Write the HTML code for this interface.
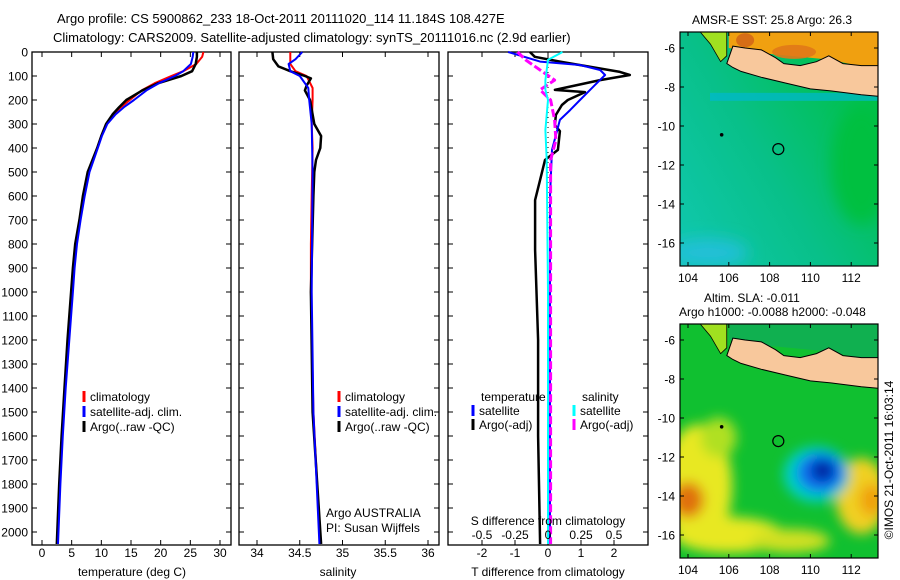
<!DOCTYPE html>
<html><head><meta charset="utf-8">
<style>
html,body{margin:0;padding:0;background:#fff;}
svg{display:block;font-family:"Liberation Sans",sans-serif;}
text{fill:#000;}
</style></head>
<body>
<svg id="fig" width="900" height="580" viewBox="0 0 900 580" xmlns="http://www.w3.org/2000/svg">
<text x="57" y="23" font-size="13">Argo profile: CS 5900862_233 18-Oct-2011 20111020_114 11.184S 108.427E</text>
<text x="53" y="42" font-size="13">Climatology: CARS2009. Satellite-adjusted climatology: synTS_20111016.nc (2.9d earlier)</text>
<g id="p1"></g>
<g id="p2"></g>
<g id="p3"></g>
<g id="m1"></g>
<g id="m2"></g>
<text x="0" y="0" font-size="12" transform="translate(893,460) rotate(-90)" text-anchor="middle">©IMOS 21-Oct-2011 16:03:14</text>
</svg>
<script>
// ---- data ----
const depthTicks=[0,100,200,300,400,500,600,700,800,900,1000,1100,1200,1300,1400,1500,1600,1700,1800,1900,2000];
const tempTicks=[0,5,10,15,20,25,30];
const salTicks=[34,34.5,35,35.5,36];
const salTickLabels=["34","34.5","35","35.5","36"];
const tdTicks=[-2,-1,0,1,2];
const sdTicks=[-0.5,-0.25,0,0.25,0.5];
const sdTickLabels=["-0.5","-0.25","0","0.25","0.5"];

const tClimDepth=[0,20,50,80,100,130,160,200,230,260,300,350,400,500,600,700,800,900,1000,1200,1400,1600,1800,2050];
const tClim=[27.2,27.0,26.0,23.8,21.8,19.0,16.8,14.8,13.3,12.0,10.8,10.0,9.3,7.8,7.1,6.4,5.7,5.4,5.1,4.5,3.9,3.4,3.0,2.6];
const tSatDepth=[0,20,50,80,100,130,160,200,230,260,300,350,400,500,600,700,800,900,1000,1200,1400,1600,1800,2050];
const tSat=[25.5,25.4,25.1,23.8,22.4,19.7,17.6,15.5,13.8,12.4,11.0,10.1,9.4,8.0,7.2,6.5,5.9,5.5,5.2,4.6,4.0,3.5,3.1,2.7];
const tArgoDepth=[0,20,50,80,100,130,160,200,230,260,300,350,400,500,600,700,800,900,1000,1200,1400,1600,1800,2050];
const tArgo=[26.1,26.1,25.9,25.3,23.5,19.6,16.9,14.2,13.0,11.9,10.8,10.0,9.3,7.7,6.9,6.3,5.6,5.2,4.9,4.3,3.8,3.3,2.9,2.5];

const sClimDepth=[0,50,80,100,150,200,300,400,600,800,1000,1500,2050];
const sClim=[34.39,34.39,34.45,34.58,34.65,34.65,34.64,34.65,34.64,34.63,34.63,34.66,34.74];
const sSatDepth=[0,30,50,80,100,150,200,300,500,1000,1500,2050];
const sSat=[34.53,34.45,34.37,34.39,34.50,34.60,34.61,34.64,34.65,34.64,34.66,34.73];
const sArgoDepth=[0,30,60,80,100,110,140,160,200,300,350,400,450,500,600,1000,1500,2050];
const sArgo=[34.18,34.19,34.25,34.39,34.56,34.63,34.58,34.56,34.62,34.67,34.75,34.74,34.69,34.67,34.66,34.63,34.65,34.75];

const dTArgoDepth=[0,20,40,83,96,117,158,167,200,221,262,304,330,408,450,533,617,825,1200,1600,2050];
const dTArgo=[-0.55,-0.4,0.36,2.18,2.48,1.58,0.21,1.12,0.6,0.42,0.24,0.21,0.36,0.3,-0.09,-0.24,-0.39,-0.39,-0.3,-0.3,-0.24];
const dTSatDepth=[0,40,54,75,96,138,200,242,283,408,600,1000,2050];
const dTSat=[-1.21,-0.24,0.97,1.58,1.73,1.42,0.97,0.67,0.36,0.12,0.06,0.06,0.06];
const dSArgoDepth=[0,33,75,117,158,200,283,367,450,600,1000,2050];
const dSArgo=[-0.23,-0.17,-0.06,0.05,-0.06,0.02,0.05,0.06,0.02,0.02,0.02,0.02];
const dSSatDepth=[0,33,117,158,200,325,450,1000,2050];
const dSSat=[0.11,0.0,-0.02,-0.02,0.0,-0.02,-0.01,0.0,0.0];

// ---- helpers ----
const NS="http://www.w3.org/2000/svg";
function mk(tag,attrs,parent){const e=document.createElementNS(NS,tag);for(const k in attrs)e.setAttribute(k,attrs[k]);parent.appendChild(e);return e;}
const Y0=52, PY=0.24, BOT=545;
function yD(d){return Y0+d*PY;}
function xT(t){return 42+t*(178/30);}
function xS(s){return 257+(s-34)*85.5;}
function xDT(t){return 548+t*33;}
function xDS(s){return 548+s*132;}

function frame(g,x0,x1,withDepthLabels){
  const r=mk('rect',{x:x0,y:Y0,width:x1-x0,height:BOT-Y0,fill:'none',stroke:'#000','stroke-width':1.3},g);
  
  
  depthTicks.forEach(d=>{
    const y=yD(d);
    const t1=mk('line',{x1:x0,y1:y,x2:x0+5,y2:y,stroke:'#000'},g);
    
    
    const t2=mk('line',{x1:x1-5,y1:y,x2:x1,y2:y,stroke:'#000'},g);
    
    
    if(withDepthLabels){
      const tx=mk('text',{x:28,y:y+4.5,'font-size':12,'text-anchor':'end'},g);
      tx.textContent=d;
      
      
    }
  });
}
function xticks(g,vals,labels,fx,ly,top){
  vals.forEach((v,i)=>{
    const x=fx(v);
    const a=mk('line',{x1:x,y1:BOT,x2:x,y2:BOT-5,stroke:'#000'},g);
    
    
    if(top){const b=mk('line',{x1:x,y1:Y0,x2:x,y2:Y0+5,stroke:'#000'},g);
    
    }
    if(labels){const t=mk('text',{x:x,y:ly,'font-size':12,'text-anchor':'middle'},g);
    t.textContent=labels[i];
    
    }
  });
}
function line(g,ds,vs,fx,color,name,w,dash){
  const pts=ds.map((d,i)=>fx(vs[i]).toFixed(1)+','+yD(Math.min(d,2070)).toFixed(1)).join(' ');
  const p=mk('polyline',{points:pts,fill:'none',stroke:color,'stroke-width':w||2,'stroke-linejoin':'round'},g);
  if(dash)p.setAttribute('stroke-dasharray',dash);
  
  
}
function label(g,x,y,txt,name,anchor){
  const t=mk('text',{x:x,y:y,'font-size':12,'text-anchor':anchor||'start'},g);
  t.textContent=txt;
  
  
}
function legRow(g,x,y,color,txt,name){
  const l=mk('line',{x1:x,y1:y-10,x2:x,y2:y+1,stroke:color,'stroke-width':3},g);
  
  
  label(g,x+6,y,txt,name);
}

// ---- panel 1 ----
const p1=document.getElementById('p1');
frame(p1,32,231,true);
xticks(p1,tempTicks,tempTicks.map(String),xT,557,true);
line(p1,tClimDepth,tClim,xT,'#ff0000','temp-climatology-line');
line(p1,tArgoDepth,tArgo,xT,'#000','temp-argo-line',2.5);
line(p1,tSatDepth,tSat,xT,'#0000ff','temp-satellite-line');
label(p1,132,576,'temperature (deg C)','x-axis-title','middle');
legRow(p1,84,401,'#ff0000','climatology','legend-climatology');
legRow(p1,84,416,'#0000ff','satellite-adj. clim.','legend-satellite');
legRow(p1,84,431,'#000','Argo(..raw -QC)','legend-argo');

// ---- panel 2 ----
const p2=document.getElementById('p2');
frame(p2,239,439,false);
xticks(p2,salTicks,salTickLabels,xS,557,true);
line(p2,sClimDepth,sClim,xS,'#ff0000','sal-climatology-line');
line(p2,sArgoDepth,sArgo,xS,'#000','sal-argo-line',2.5);
line(p2,sSatDepth,sSat,xS,'#0000ff','sal-satellite-line');
label(p2,338,576,'salinity','x-axis-title','middle');
legRow(p2,339,401,'#ff0000','climatology','legend-climatology');
legRow(p2,339,416,'#0000ff','satellite-adj. clim.','legend-satellite');
legRow(p2,339,431,'#000','Argo(..raw -QC)','legend-argo');
label(p2,326,517,'Argo AUSTRALIA','argo-country');
label(p2,326,532,'PI: Susan Wijffels','argo-pi');

// ---- panel 3 ----
const p3=document.getElementById('p3');
frame(p3,448,648,false);
xticks(p3,tdTicks,tdTicks.map(String),xDT,557,true);
const zl=mk('line',{x1:548,y1:Y0,x2:548,y2:BOT,stroke:'#000','stroke-dasharray':'1,4'},p3);


line(p3,dTArgoDepth,dTArgo,xDT,'#000','tdiff-argo-line',2.5);
line(p3,dTSatDepth,dTSat,xDT,'#0000ff','tdiff-satellite-line');
line(p3,dSArgoDepth,dSArgo,xDS,'#ff00ff','sdiff-argo-line',3,'8,3');
line(p3,dSSatDepth,dSSat,xDS,'#00ffff','sdiff-satellite-line');
sdTicks.forEach((v,i)=>label(p3,xDS(v),539,sdTickLabels[i],'s-tick-label','middle'));
label(p3,548,525,'S difference from climatology','s-axis-title','middle');
label(p3,548,576,'T difference from climatology','x-axis-title','middle');
label(p3,481,401,'temperature','legend-temperature-header');
label(p3,582,401,'salinity','legend-salinity-header');
legRow(p3,473,415,'#0000ff','satellite','legend-t-satellite');
legRow(p3,473,429,'#000','Argo(-adj)','legend-t-argo');
legRow(p3,574,415,'#00ffff','satellite','legend-s-satellite');
legRow(p3,574,429,'#ff00ff','Argo(-adj)','legend-s-argo');

// ---- maps ----
const lonTicks=[104,106,108,110,112];
const latTicks=[-6,-8,-10,-12,-14,-16];
const javaLon=[106.2,106.8,107.6,108.3,108.7,109.5,110.3,110.9,111.6,112.5,113.6,113.6,112.5,111,110,108.8,107.6,106.6,106.2,105.9];
const javaLat=[-5.9,-6.0,-6.1,-6.5,-6.8,-6.9,-6.7,-6.4,-6.8,-6.9,-6.9,-8.5,-8.4,-8.2,-8.1,-7.8,-7.5,-7.2,-7.0,-6.8];
const argoLon=108.427, argoLat=-11.184;
function drawMap(g,oy,title,kind){
  const X=lon=>688+(lon-104)*20.4, Y=lat=>48+oy+(-6-lat)*19.5;
  const x0=680,x1=878,y0=32+oy,y1=266+oy;
  const defs=mk('defs',{},g);
  const cid='clip'+kind;
  const cp=mk('clipPath',{id:cid},defs);mk('rect',{x:x0,y:y0,width:x1-x0,height:y1-y0},cp);
  const mg=mk('g',{'clip-path':'url(#'+cid+')'},g);
  const bl=mk('filter',{id:'bl'+kind,x:'-50%',y:'-50%',width:'200%',height:'200%'},defs);mk('feGaussianBlur',{stdDeviation:kind==='sst'?8:6},bl);
  const north=[[X(106),y0],[X(113.6),y0],[X(113.6),Y(-7.2)],[X(111),Y(-6.6)],[X(108),Y(-6.3)],[X(106),Y(-6.0)]].map(p=>p.join(',')).join(' ');
  if(kind==='sst'){
    const lg=mk('linearGradient',{id:'gs',x1:0,y1:1,x2:1,y2:0.3},defs);
    mk('stop',{offset:0,'stop-color':'#10c8b0'},lg);mk('stop',{offset:0.5,'stop-color':'#08c088'},lg);mk('stop',{offset:1,'stop-color':'#00c048'},lg);
    mk('rect',{x:x0,y:y0,width:x1-x0,height:y1-y0,fill:'url(#gs)'},mg);
    const fg=mk('g',{filter:'url(#blsst)'},mg);
    mk('ellipse',{cx:X(112.5),cy:Y(-12),rx:30,ry:60,fill:'#00c040'},fg);
    mk('ellipse',{cx:X(105),cy:Y(-16.5),rx:40,ry:14,fill:'#20c0d8'},fg);
    mk('rect',{x:x0+30,y:Y(-8.3),width:x1-x0,height:8,fill:'#00b8d0',opacity:0.7},mg);
    mk('polygon',{points:north,fill:'#f0a010'},mg);
    mk('ellipse',{cx:X(109.2),cy:Y(-6.2),rx:22,ry:7,fill:'#e07818',opacity:0.9},mg);
    mk('ellipse',{cx:X(106.8),cy:Y(-5.6),rx:9,ry:7,fill:'#d06018',opacity:0.8},mg);
  } else {
    mk('rect',{x:x0,y:y0,width:x1-x0,height:y1-y0,fill:'#10c030'},mg);
    const fg=mk('g',{filter:'url(#blsla)'},mg);
    mk('ellipse',{cx:X(104.5),cy:Y(-13.5),rx:34,ry:62,fill:'#e8e820'},fg);
    mk('ellipse',{cx:X(106),cy:Y(-16),rx:55,ry:18,fill:'#e8e820'},fg);
    mk('ellipse',{cx:X(104),cy:Y(-14.2),rx:16,ry:18,fill:'#e07010'},fg);
    mk('ellipse',{cx:X(105.5),cy:Y(-11),rx:18,ry:20,fill:'#b0e020'},fg);
    mk('ellipse',{cx:X(112.5),cy:Y(-14),rx:26,ry:38,fill:'#f0d020'},fg);
    mk('ellipse',{cx:X(113),cy:Y(-14.2),rx:12,ry:16,fill:'#f0a010'},fg);
    mk('ellipse',{cx:X(109),cy:Y(-16.3),rx:40,ry:12,fill:'#d0e020'},fg);
    mk('ellipse',{cx:X(110.3),cy:Y(-12.9),rx:33,ry:28,fill:'#00d0c8'},fg);
    mk('ellipse',{cx:X(110.5),cy:Y(-12.8),rx:24,ry:20,fill:'#1070f0'},fg);
    mk('ellipse',{cx:X(110.6),cy:Y(-12.7),rx:12,ry:11,fill:'#0020a0'},fg);
    mk('polygon',{points:north,fill:'#10b050'},mg);
  }
  mk('polygon',{points:[[X(104.6),y0],[X(105.9),y0],[X(105.9),Y(-6.4)],[X(105.6),Y(-6.7)],[X(105.1),Y(-5.8)]].map(p=>p.join(',')).join(' '),fill:'#a0e020',stroke:'#000','stroke-width':0.8},mg);
  const land=mk('polygon',{points:javaLon.map((l,i)=>X(l).toFixed(1)+','+Y(javaLat[i]).toFixed(1)).join(' '),fill:'#f8c89c',stroke:'#000','stroke-width':1},mg);
  
  
  const c=mk('circle',{cx:X(argoLon),cy:Y(argoLat),r:5.5,fill:'none',stroke:'#000','stroke-width':1.2},g);
  
  
  mk('circle',{cx:X(105.65),cy:Y(-10.45),r:1.8,fill:'#000'},g);
  const fr=mk('rect',{x:x0,y:y0,width:x1-x0,height:y1-y0,fill:'none',stroke:'#000','stroke-width':1.2},g);
  
  
  lonTicks.forEach(l=>{
    mk('line',{x1:X(l),y1:y1,x2:X(l),y2:y1-4,stroke:'#000'},g);mk('line',{x1:X(l),y1:y0,x2:X(l),y2:y0+4,stroke:'#000'},g);
    label(g,X(l),y1+16,String(l),'lon-tick-label','middle');
  });
  latTicks.forEach(l=>{
    mk('line',{x1:x0,y1:Y(l),x2:x0+4,y2:Y(l),stroke:'#000'},g);mk('line',{x1:x1-4,y1:Y(l),x2:x1,y2:Y(l),stroke:'#000'},g);
    label(g,x0-5,Y(l)+4.5,String(l),'lat-tick-label','end');
  });
  title.forEach((t,i)=>label(g,t[1],t[2],t[0],'map-title','start'));
}
drawMap(document.getElementById('m1'),0,[["AMSR-E SST: 25.8 Argo: 26.3",692,24]],'sst');
drawMap(document.getElementById('m2'),292,[["Altim. SLA: -0.011",704,302],["Argo h1000: -0.0088 h2000: -0.048",679,316]],'sla');
</script>
</body></html>
